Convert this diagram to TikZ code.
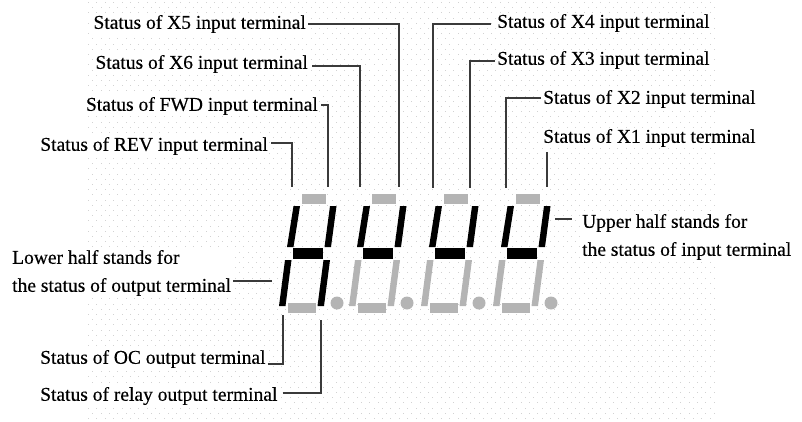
\documentclass[tikz,border=0pt]{standalone}
\usepackage{fontspec}
\setmainfont{Liberation Serif}[FakeBold=0.35]
\definecolor{segoff}{HTML}{B4B4B4}
\definecolor{dotc}{HTML}{D2D2D2}
\definecolor{linec}{HTML}{3A3A3A}
\begin{document}
\begin{tikzpicture}[x=1pt,y=-1pt,
  lbl/.style={font=\fontsize{19.5}{28}\selectfont, fill=white, inner sep=1pt},
  conn/.style={draw=linec, line width=1.8pt},
  onseg/.style={fill=black},
  offseg/.style={fill=segoff}]
\useasboundingbox (0,0) rectangle (802,421);
% dotted background
\foreach \j in {0,...,80}{
  \pgfmathsetmacro{\yy}{2+\j*5.2}
  \pgfmathsetmacro{\xo}{88+mod(\j,2)*4.2}
  \foreach \i in {0,...,74}{
    \fill[dotc] (\xo+\i*8.4,\yy) rectangle ++(1,1);
  }
}
% labels
\node[lbl, anchor=east] (x5) at (307,24) {Status of X5 input terminal};
\node[lbl, anchor=east] (x6) at (309,64) {Status of X6 input terminal};
\node[lbl, anchor=east] (fwd) at (319,106) {Status of FWD input terminal};
\node[lbl, anchor=east] (rev) at (269,146) {Status of REV input terminal};
\node[lbl, anchor=west] (x4) at (496,23) {Status of X4 input terminal};
\node[lbl, anchor=west] (x3) at (496,60) {Status of X3 input terminal};
\node[lbl, anchor=west] (x2) at (542,99) {Status of X2 input terminal};
\node[lbl, anchor=west] (x1) at (542,138) {Status of X1 input terminal};
\node[lbl, anchor=west, align=left] (upper) at (581,237) {Upper half stands for\\the status of input terminal};
\node[lbl, anchor=west, align=left] (lower) at (11,273) {Lower half stands for\\the status of output terminal};
\node[lbl, anchor=west] (oc) at (39,359) {Status of OC output terminal};
\node[lbl, anchor=west] (relay) at (39,396) {Status of relay output terminal};
% connector end points
\coordinate (t1f) at (292,187);
\coordinate (t1b) at (328,187);
\coordinate (t2f) at (360,187);
\coordinate (t2b) at (399,187);
\coordinate (t3f) at (433,188);
\coordinate (t3b) at (470,188);
\coordinate (t4f) at (506,188);
\coordinate (t4b) at (547,187);
\coordinate (ur) at (555,219);
\coordinate (ll) at (272,281);
\coordinate (b1e) at (283,315);
\coordinate (b1c) at (321,320);
% connectors
\draw[conn] ([xshift=1pt]x5.east) -| (t2b);
\draw[conn] ([xshift=3pt,yshift=-2pt]x6.east) -| (t2f);
\draw[conn] ([xshift=2pt,yshift=1pt]fwd.east) -| (t1b);
\draw[conn] ([xshift=2pt,yshift=3pt]rev.east) -| (t1f);
\draw[conn] ([xshift=-5pt,yshift=-1pt]x4.west) -| (t3f);
\draw[conn] ([xshift=-1pt,yshift=-1pt]x3.west) -| (t3b);
\draw[conn] ([xshift=-1pt,yshift=1pt]x2.west) -| (t4f);
\draw[conn] (t4b |- x1.south) ++(0,4) -- (t4b);
\draw[conn] (ur) -- ([xshift=-9pt]upper.west |- ur);
\draw[conn] (ll) -- ([xshift=1pt]lower.east |- ll);
\draw[conn] ([xshift=1pt,yshift=-5pt]oc.east) -| (b1e);
\draw[conn] ([xshift=4pt,yshift=3pt]relay.east) -| (b1c);
% seven-segment digits
\foreach \dx/\lo in {0/onseg,70/offseg,142/offseg,214/offseg}{
  \begin{scope}[xshift=\dx pt]
    \fill[offseg] (302,194) rectangle (326,204);
    \fill[onseg] (330,206) -- (336.5,206) -- (331,247) -- (324.5,247) -- cycle;
    \fill[onseg] (293.5,206) -- (300,206) -- (293.5,247) -- (287,247) -- cycle;
    \fill[onseg] (293,248) rectangle (323,259);
    \fill[\lo] (285,260) -- (291.5,260) -- (285.5,306) -- (279,306) -- cycle;
    \fill[\lo] (323.5,260) -- (330,260) -- (324,306) -- (317.5,306) -- cycle;
    \fill[offseg] (288,303) rectangle (316,313);
    \fill[offseg] (337,303) circle (6.5);
  \end{scope}
}
\end{tikzpicture}
\end{document}
